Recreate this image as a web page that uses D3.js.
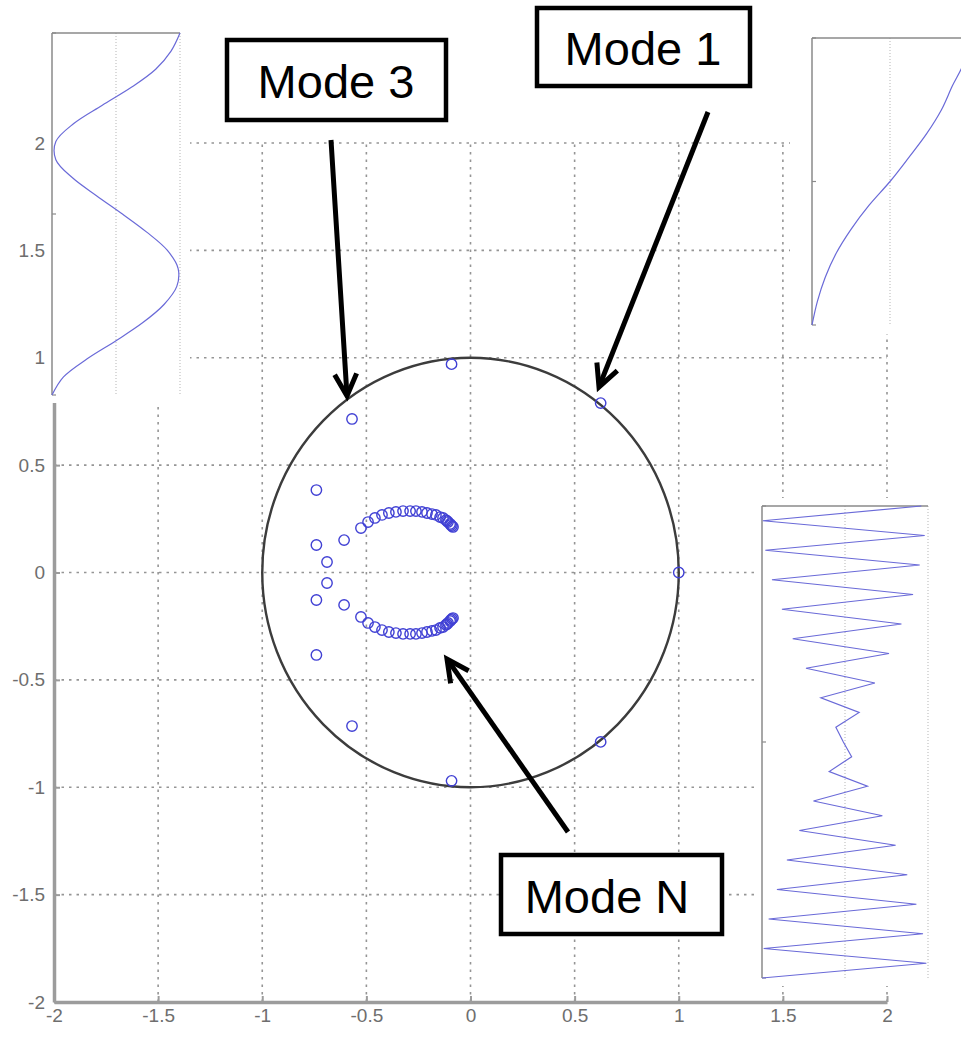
<!DOCTYPE html>
<html><head><meta charset="utf-8">
<script src="https://cdn.jsdelivr.net/npm/d3@7"></script>
<style>body{margin:0;background:#fff} svg{display:block}</style>
</head><body>
<svg id="c" width="961" height="1042"></svg>
<script>
// ---------- data ----------
const tickValues = [-2, -1.5, -1, -0.5, 0, 0.5, 1, 1.5, 2];
const tickLabels = ["-2", "-1.5", "-1", "-0.5", "0", "0.5", "1", "1.5", "2"];

// eigenvalues (real / imaginary parts)
const eigRe = [
  -0.091, -0.569, -0.740, -0.740, -0.689, -0.607, 1.000, 0.625,
  -0.526, -0.492, -0.459, -0.425, -0.392, -0.358, -0.324, -0.290, -0.262, -0.233, -0.209,
  -0.185, -0.166, -0.146, -0.132, -0.118, -0.108, -0.098, -0.089, -0.113, -0.094, -0.084,
  -0.091, -0.569, -0.740, -0.740, -0.689, -0.607, 0.625,
  -0.526, -0.492, -0.459, -0.425, -0.392, -0.358, -0.324, -0.290, -0.262, -0.233, -0.209,
  -0.185, -0.166, -0.146, -0.132, -0.118, -0.108, -0.098, -0.089, -0.113, -0.094, -0.084
];
const eigIm = [
  0.970, 0.715, 0.384, 0.128, 0.049, 0.151, 0.000, 0.789,
  0.207, 0.235, 0.254, 0.268, 0.277, 0.282, 0.286, 0.286, 0.286, 0.282, 0.277,
  0.272, 0.268, 0.258, 0.254, 0.244, 0.235, 0.226, 0.216, 0.240, 0.221, 0.212,
  -0.970, -0.715, -0.384, -0.128, -0.049, -0.151, -0.789,
  -0.207, -0.235, -0.254, -0.268, -0.277, -0.282, -0.286, -0.286, -0.286, -0.282, -0.277,
  -0.272, -0.268, -0.258, -0.254, -0.244, -0.235, -0.226, -0.216, -0.240, -0.221, -0.212
];

// mode shapes (displacement, sampled top -> bottom)
const mode1Shape = [1.00, 0.95, 0.80, 0.66, 0.47, 0.24, 0.00, -0.27, -0.50, -0.69, -0.83, -0.93, -1.00];
const mode3Shape = [1.00, 0.86, 0.62, 0.24, -0.22, -0.66, -0.94, -0.94, -0.68, -0.30, 0.10,
                    0.48, 0.80, 0.97, 0.95, 0.75, 0.42, 0.00, -0.45, -0.82, -1.00];
const modeNShape = [0.92, -0.99, 0.96, -0.96, 0.90, -0.88, 0.82, -0.76, 0.68, -0.63, 0.53,
                    -0.47, 0.36, -0.29, 0.17, -0.11, -0.02, 0.08, -0.19, 0.27, -0.38, 0.45,
                    -0.55, 0.61, -0.70, 0.75, -0.82, 0.86, -0.92, 0.94, -0.98, 0.98, -1.00];

const annotationLabels = ["Mode 3", "Mode 1", "Mode N"];

// ---------- drawing ----------
const svg = d3.select("#c");
const x = d3.scaleLinear().domain([-2, 2]).range([54, 887]);
const y = d3.scaleLinear().domain([-2, 2]).range([1002, 143]);

// grid
const grid = svg.append("g").attr("stroke", "#959595").attr("stroke-width", 1.6)
  .attr("stroke-dasharray", "2.5,5");
grid.selectAll("line.v").data(tickValues.slice(1)).join("line").attr("class", "v")
  .attr("x1", d => x(d)).attr("x2", d => x(d)).attr("y1", y(-2)).attr("y2", y(2));
grid.selectAll("line.h").data(tickValues.slice(1)).join("line").attr("class", "h")
  .attr("y1", d => y(d)).attr("y2", d => y(d)).attr("x1", x(-2)).attr("x2", x(2));

// unit circle
svg.append("ellipse")
  .attr("cx", x(0)).attr("cy", y(0))
  .attr("rx", x(1) - x(0)).attr("ry", y(0) - y(1))
  .attr("fill", "none").attr("stroke", "#3c3c3c").attr("stroke-width", 2.4);

// eigenvalue markers
svg.append("g").selectAll("circle").data(d3.range(eigRe.length)).join("circle")
  .attr("cx", i => x(eigRe[i])).attr("cy", i => y(eigIm[i])).attr("r", 5.2)
  .attr("fill", "none").attr("stroke", "#4040d4").attr("stroke-width", 1.4);

// axes
const axisFont = "'Liberation Sans', Arial, sans-serif";
function styleAxis(g) {
  g.select(".domain").attr("stroke", "#9c9c9c").attr("stroke-width", 3.5);
  g.selectAll(".tick line").attr("stroke", "#9c9c9c").attr("stroke-width", 2);
  g.selectAll(".tick text").attr("fill", "#6e6e6e").attr("font-size", 19)
    .attr("font-family", axisFont);
}
svg.append("g").attr("transform", `translate(0,${y(-2)})`)
  .call(d3.axisBottom(x).tickValues(tickValues).tickFormat((d, i) => tickLabels[i])
    .tickSizeInner(-6).tickSizeOuter(0).tickPadding(7))
  .call(styleAxis);
svg.append("g").attr("transform", `translate(${x(-2)},0)`)
  .call(d3.axisLeft(y).tickValues(tickValues).tickFormat((d, i) => tickLabels[i])
    .tickSizeInner(-6).tickSizeOuter(0).tickPadding(9))
  .call(styleAxis);

// insets
function inset(cfg) {
  const g = svg.append("g");
  g.append("rect").attr("x", cfg.bg[0]).attr("y", cfg.bg[1])
    .attr("width", cfg.bg[2]).attr("height", cfg.bg[3]).attr("fill", "#fff");
  const xs = d3.scaleLinear().domain([-1, 1]).range([cfg.x0, cfg.x1]);
  const ys = d3.scaleLinear().domain([0, cfg.data.length - 1]).range([cfg.y0, cfg.y1]);
  g.selectAll("line.gv").data([0, 1]).join("line").attr("class", "gv")
    .attr("x1", d => xs(d)).attr("x2", d => xs(d)).attr("y1", cfg.y0).attr("y2", cfg.y1)
    .attr("stroke", "#b5b5b5").attr("stroke-width", 1).attr("stroke-dasharray", "1,2");
  g.append("line").attr("x1", cfg.x0).attr("x2", cfg.x0).attr("y1", cfg.y0).attr("y2", cfg.y1)
    .attr("stroke", "#8a8a8a").attr("stroke-width", 1.5);
  if (cfg.top) g.append("line").attr("x1", cfg.x0).attr("x2", cfg.x1).attr("y1", cfg.y0).attr("y2", cfg.y0)
    .attr("stroke", "#8a8a8a").attr("stroke-width", 1.5);
  g.selectAll("line.tk").data([0, 0.5, 1]).join("line").attr("class", "tk")
    .attr("x1", cfg.x0).attr("x2", cfg.x0 + 4)
    .attr("y1", d => cfg.y0 + d * (cfg.y1 - cfg.y0)).attr("y2", d => cfg.y0 + d * (cfg.y1 - cfg.y0))
    .attr("stroke", "#8a8a8a").attr("stroke-width", 1.2);
  g.append("path").datum(cfg.data)
    .attr("d", d3.line().x(v => xs(v)).y((v, i) => ys(i)).curve(cfg.curve))
    .attr("fill", "none").attr("stroke", "#6a6ad8").attr("stroke-width", 1.2);
}
inset({ bg: [46, 24, 144, 379], x0: 52, x1: 180, y0: 33, y1: 395, data: mode3Shape,
        curve: d3.curveCatmullRom, top: true });
inset({ bg: [790, 30, 171, 304], x0: 812, x1: 968, y0: 38, y1: 325, data: mode1Shape,
        curve: d3.curveCatmullRom, top: true });
inset({ bg: [754, 498, 207, 488], x0: 762, x1: 928, y0: 506, y1: 978, data: modeNShape,
        curve: d3.curveLinear, top: true });

// annotations
const boxes = [
  { x: 227, y: 40, w: 219, h: 80, tx: 336, ty: 98, from: [331, 140], to: [347, 396] },
  { x: 537, y: 8, w: 213, h: 78, tx: 643, ty: 65, from: [708, 112], to: [599, 387] },
  { x: 501, y: 855, w: 221, h: 79, tx: 607, ty: 913, from: [568, 832], to: [447, 659] }
];
const ann = svg.append("g");
boxes.forEach((b, i) => {
  ann.append("rect").attr("x", b.x).attr("y", b.y).attr("width", b.w).attr("height", b.h)
    .attr("fill", "#fff").attr("stroke", "#000").attr("stroke-width", 4.5);
  ann.append("text").attr("x", b.tx).attr("y", b.ty).attr("text-anchor", "middle")
    .attr("font-family", "'Liberation Sans', Arial, sans-serif").attr("font-size", 47)
    .attr("fill", "#000").text(annotationLabels[i]);
  const [x1, y1] = b.from, [x2, y2] = b.to;
  const L = Math.hypot(x2 - x1, y2 - y1), ux = (x2 - x1) / L, uy = (y2 - y1) / L;
  const px = -uy, py = ux;
  ann.append("line").attr("x1", x1).attr("y1", y1).attr("x2", x2 - ux * 2).attr("y2", y2 - uy * 2)
    .attr("stroke", "#000").attr("stroke-width", 5);
  const bl = 22, bw = 11;
  ann.append("path")
    .attr("d", `M${x2 - ux * bl + px * bw},${y2 - uy * bl + py * bw}L${x2},${y2}L${x2 - ux * bl - px * bw},${y2 - uy * bl - py * bw}`)
    .attr("fill", "none").attr("stroke", "#000").attr("stroke-width", 5)
    .attr("stroke-linejoin", "miter");
});
</script>
</body></html>
